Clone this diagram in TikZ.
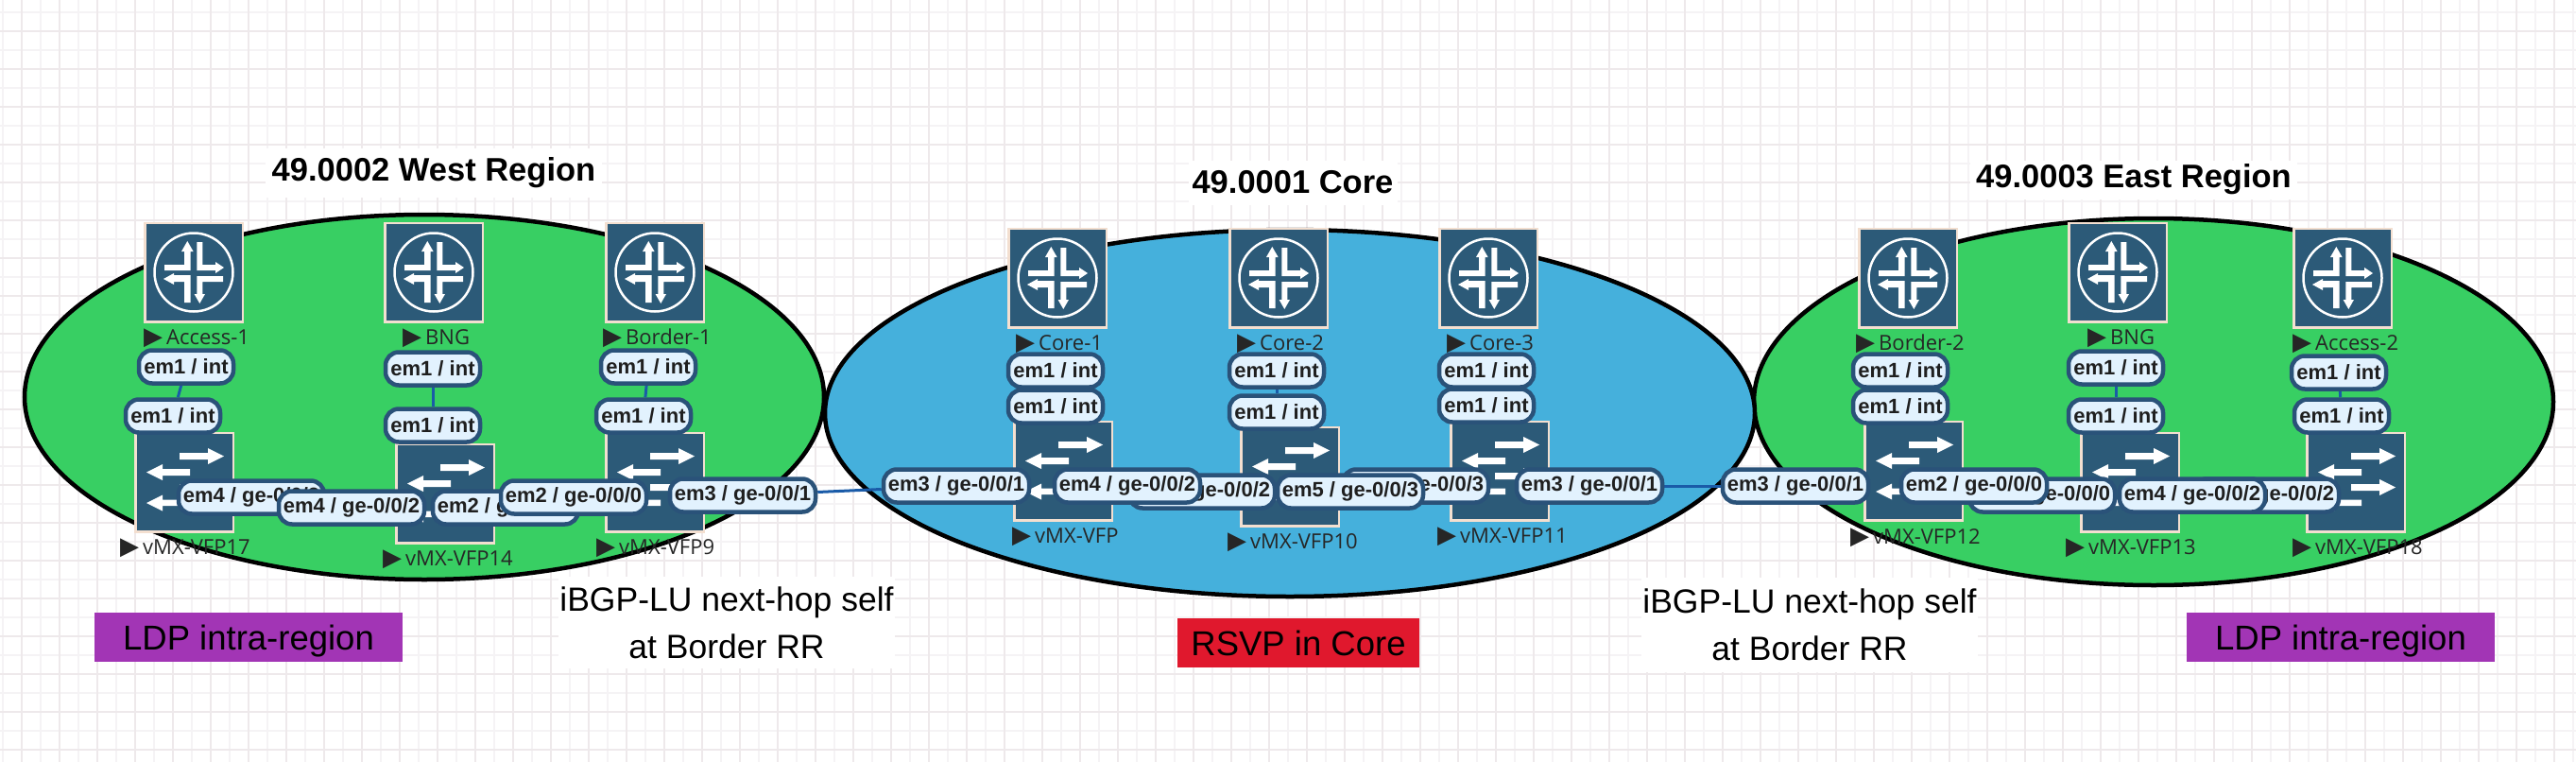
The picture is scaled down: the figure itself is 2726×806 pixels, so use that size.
\documentclass[tikz,border=0pt]{standalone}
\usepackage{fontspec}
\setmainfont{Liberation Sans}
\newfontfamily\devfont{Open Sans}
\newfontfamily\symfont{DejaVu Sans}
\usetikzlibrary{backgrounds}
\pgfdeclarelayer{gridlayer}
\pgfdeclarelayer{linklayer}
\pgfsetlayers{gridlayer,linklayer,main}
\definecolor{gridmajor}{HTML}{EEE9EB}
\definecolor{gridminor}{HTML}{F5F3F5}
\definecolor{regiongreen}{HTML}{38CF63}
\definecolor{coreblue}{HTML}{45B0DC}
\definecolor{iconblue}{HTML}{2C5A78}
\definecolor{iconedge}{HTML}{F3DFD0}
\definecolor{pillfill}{HTML}{E2F2FE}
\definecolor{pilledge}{HTML}{2A5279}
\definecolor{linkblue}{HTML}{1A5BA8}
\definecolor{ldppurple}{HTML}{A235B5}
\definecolor{rsvpred}{HTML}{E0182D}
\newcommand{\routericon}{
      \begin{scope}[shift={(path picture bounding box.center)}]
        \draw [white, line width=2.5pt] (0,0) circle [radius=41.5];
        \fill [white] (-31,-8) -- (-10,-8) -- (-10,-22) -- (-13,-22) -- (-6.7,-33)
          -- (-0.4,-22) -- (-3.3,-22) -- (-3.3,-2) -- (-31,-2) -- cycle;
        \fill [white] (3.3,-32) -- (9.3,-32) -- (9.3,-8) -- (23,-8) -- (23,-11) -- (32,-5)
          -- (23,1) -- (23,-2) -- (3.3,-2) -- cycle;
        \fill [white] (-32,7) -- (-21,1) -- (-21,3) -- (-3.3,3) -- (-3.3,32) -- (-10,32)
          -- (-10,10) -- (-21,10) -- (-21,13) -- cycle;
        \fill [white] (3.3,4) -- (31,4) -- (31,10) -- (9.3,10) -- (9.3,23) -- (12,23)
          -- (6.3,33) -- (0.6,23) -- (3.3,23) -- cycle;
      \end{scope}
}
\newcommand{\switchicon}{
      \begin{scope}[shift={(path picture bounding box.center)}]
        \fill [white] (-5,-31) -- (25,-31) -- (25,-36) -- (42,-27.5) -- (25,-19) -- (25,-24) -- (-5,-24) -- cycle;
        \fill [white] (-40,-10.5) -- (-23,-19) -- (-23,-14) -- (6,-14) -- (6,-7) -- (-23,-7) -- (-23,-2) -- cycle;
        \fill [white] (-5,2) -- (25,2) -- (25,-3) -- (42,5.5) -- (25,14) -- (25,9) -- (-5,9) -- cycle;
        \fill [white] (-40,22) -- (-23,13.5) -- (-23,18.5) -- (6,18.5) -- (6,25) -- (-23,25) -- (-23,30.5) -- cycle;
      \end{scope}
}
\newcommand{\devtag}[1]{{\symfont\fontsize{26}{26}\selectfont ▶}\hspace{4pt}#1}
\tikzset{
  region/.style={ellipse, draw=black, line width=4.5pt, inner sep=0pt},
  routerbox/.style={draw=iconedge, fill=iconblue, line width=2.5pt, inner sep=0pt,
    minimum width=103.5pt, minimum height=104.5pt, path picture={\routericon}},
  switchbox/.style={draw=iconedge, fill=iconblue, line width=2.5pt, inner sep=0pt,
    minimum width=103.5pt, minimum height=104.5pt, path picture={\switchicon}},
  devlabel/.style={anchor=west, inner sep=0pt, text=black!85,
    font=\devfont\fontsize{22}{24}\selectfont},
  pill/.style={draw=pilledge, fill=pillfill, line width=4.5pt, rounded corners=14pt, inner sep=0pt,
    minimum width=154pt, minimum height=35pt, text=black!88,
    font=\bfseries\fontsize{22}{24}\selectfont},
  shortpill/.style={pill, minimum width=100pt},
  link/.style={draw=linkblue, line width=3pt},
  title/.style={fill=white, inner sep=0pt, font=\bfseries\fontsize{34.5}{38}\selectfont},
  note/.style={fill=white, inner sep=0pt, align=center, minimum width=356pt,
    font=\fontsize{35.5}{50}\selectfont},
  tagbox/.style={inner sep=0pt, minimum height=52pt, text height=26pt, text depth=0pt,
    font=\fontsize{36.5}{38}\selectfont}
}
\usetikzlibrary{shapes.geometric}
\begin{document}
\begin{tikzpicture}[x=1pt, y=-1pt]
      \useasboundingbox (0,0) rectangle (2726,806);
      \begin{pgfonlayer}{gridlayer}
        \fill [white] (0,0) rectangle (2726,806);
        \foreach \gx in {3,43,...,2723} \draw [gridminor, line width=2pt] (\gx,0) -- (\gx,806);
        \foreach \gy in {13,53,...,793} \draw [gridminor, line width=2pt] (0,\gy) -- (2726,\gy);
        \foreach \gx in {23,63,...,2703} \draw [gridmajor, line width=2.5pt] (\gx,0) -- (\gx,806);
        \foreach \gy in {33,73,...,793} \draw [gridmajor, line width=2.5pt] (0,\gy) -- (2726,\gy);
        \node [region, fill=regiongreen, minimum width=846pt, minimum height=386pt] (west) at (449,420) {};
        \node [region, fill=regiongreen, minimum width=846pt, minimum height=388pt] (east) at (2279,425) {};
        \node [region, fill=coreblue, minimum width=984pt, minimum height=388pt] (core) at (1365,437) {};
      \end{pgfonlayer}

      \node [title, minimum width=356pt, minimum height=52pt] (westtitle) at (459,183) {49.0002 West Region};
      \node [title, minimum width=221pt, minimum height=47pt] (coretitle) at (1368,193) {49.0001 Core};
      \node [title, minimum width=346pt, minimum height=41pt] (easttitle) at (2258,190) {49.0003 East Region};

      \foreach \name/\x/\y in {access1/205/288, wbng/459/288, border1/693/288,
        core1/1119/294, core2/1353/294, core3/1575/294,
        border2/2019/294, ebng/2241/288, access2/2479/294}
        \node [routerbox] (\name) at (\x,\y) {};

      \foreach \name/\x/\y in {vfp17/195/510, vfp14/471/522, vfp9/693/510,
        vfp/1125/498, vfp10/1365/504, vfp11/1587/498,
        vfp12/2025/498, vfp13/2254/510, vfp18/2493/510}
        \node [switchbox] (\name) at (\x,\y) {};

      \node [devlabel] (laccess1) at (152,358) {\devtag{Access-1}};
      \node [devlabel] (lwbng) at (426,358) {\devtag{BNG}};
      \node [devlabel] (lborder1) at (638,358) {\devtag{Border-1}};
      \node [devlabel] (lcore1) at (1075,364) {\devtag{Core-1}};
      \node [devlabel] (lcore2) at (1309,364) {\devtag{Core-2}};
      \node [devlabel] (lcore3) at (1531,364) {\devtag{Core-3}};
      \node [devlabel] (lborder2) at (1964,364) {\devtag{Border-2}};
      \node [devlabel] (lebng) at (2209,358) {\devtag{BNG}};
      \node [devlabel] (laccess2) at (2426,364) {\devtag{Access-2}};
      \node [devlabel] (lvfp17) at (127,580) {\devtag{vMX-VFP17}};
      \node [devlabel] (lvfp14) at (405,592) {\devtag{vMX-VFP14}};
      \node [devlabel] (lvfp9) at (631,580) {\devtag{vMX-VFP9}};
      \node [devlabel] (lvfp) at (1071,568) {\devtag{vMX-VFP}};
      \node [devlabel] (lvfp10) at (1299,574) {\devtag{vMX-VFP10}};
      \node [devlabel] (lvfp11) at (1521,568) {\devtag{vMX-VFP11}};
      \node [devlabel] (lvfp12) at (1958,569) {\devtag{vMX-VFP12}};
      \node [devlabel] (lvfp13) at (2186,580) {\devtag{vMX-VFP13}};
      \node [devlabel] (lvfp18) at (2426,580) {\devtag{vMX-VFP18}};

      \foreach \name/\x/\y in {a1t/197/388, a1b/183/440, bw1t/458/390, bw1b/458/450,
        b1t/686/388, b1b/681/440, c1t/1117/392, c1b/1117/430, c2t/1351/392, c2b/1351/436,
        c3t/1573/392, c3b/1573/429, b2t/2011/392, b2b/2011/430, be1t/2239/389, be1b/2239/440,
        a2t/2475/394, a2b/2478/440}
        \node [shortpill] (\name) at (\x,\y) {em1 / int};

      \node [pill] (w4a) at (266,526) {em4 / ge-0/0/2};
      \node [pill] (w4b) at (372,537) {em4 / ge-0/0/2};
      \node [pill] (w2b) at (535,537) {em2 / ge-0/0/0};
      \node [pill] (w2a) at (607,526) {em2 / ge-0/0/0};
      \node [pill] (w3) at (786,524) {em3 / ge-0/0/1};
      \node [pill] (cw3) at (1012,514) {em3 / ge-0/0/1};
      \node [pill] (c4b) at (1272,520) {em4 / ge-0/0/2};
      \node [pill] (c4a) at (1193,514) {em4 / ge-0/0/2};
      \node [pill] (c5a) at (1498,514) {em5 / ge-0/0/3};
      \node [pill] (c5b) at (1429,520) {em5 / ge-0/0/3};
      \node [pill] (ce3) at (1682,514) {em3 / ge-0/0/1};
      \node [pill] (e3) at (1900,514) {em3 / ge-0/0/1};
      \node [pill] (e2b) at (2161,524) {em2 / ge-0/0/0};
      \node [pill] (e2a) at (2089,514) {em2 / ge-0/0/0};
      \node [pill] (e4b) at (2398,524) {em4 / ge-0/0/2};
      \node [pill] (e4a) at (2320,524) {em4 / ge-0/0/2};

      \begin{pgfonlayer}{linklayer}
        \draw [link] (a1t) -- (a1b);
        \draw [link] (bw1t) -- (bw1b);
        \draw [link] (b1t) -- (b1b);
        \draw [link] (c1t) -- (c1b);
        \draw [link] (c2t) -- (c2b);
        \draw [link] (c3t) -- (c3b);
        \draw [link] (b2t) -- (b2b);
        \draw [link] (be1t) -- (be1b);
        \draw [link] (a2t) -- (a2b);
        \draw [link] (w4a) -- (w4b);
        \draw [link] (w2b) -- (w2a);
        \draw [link] (w3) -- (cw3);
        \draw [link] (c4a) -- (c4b);
        \draw [link] (c5b) -- (c5a);
        \draw [link] (ce3) -- (e3);
        \draw [link] (e2a) -- (e2b);
        \draw [link] (e4a) -- (e4b);
      \end{pgfonlayer}

      \node [note, minimum height=97pt] (westnote) at (769,658.5) {iBGP-LU next-hop self\\at Border RR};
      \node [note, minimum height=100pt] (eastnote) at (1915,661) {iBGP-LU next-hop self\\at Border RR};
      \node [tagbox, fill=ldppurple, minimum width=326pt] (westldp) at (263,674) {LDP intra-region};
      \node [tagbox, fill=rsvpred, minimum width=256pt] (rsvp) at (1374,680) {RSVP in Core};
      \node [tagbox, fill=ldppurple, minimum width=326pt] (eastldp) at (2477,674) {LDP intra-region};
\end{tikzpicture}
\end{document}
